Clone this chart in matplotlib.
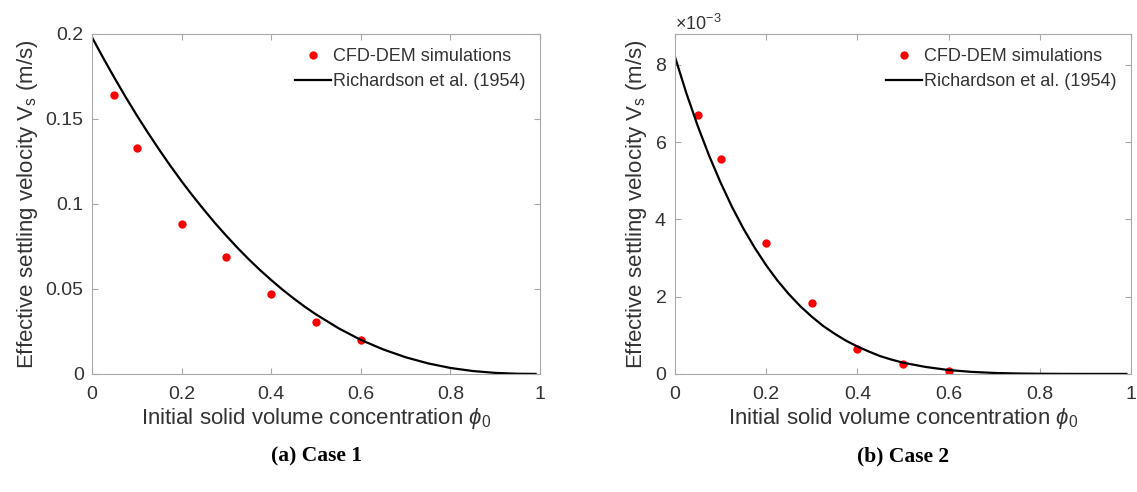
import matplotlib
matplotlib.use("Agg")
from matplotlib import pyplot as plt
from matplotlib.ticker import ScalarFormatter

plt.rcParams['font.family'] = ['Liberation Sans', 'DejaVu Sans']
plt.rcParams['mathtext.fontset'] = 'custom'
plt.rcParams['mathtext.rm'] = 'Liberation Sans'
plt.rcParams['mathtext.it'] = 'Liberation Sans:italic'

# CFD-DEM points
phi_sim = [0.05, 0.1, 0.2, 0.3, 0.4, 0.5, 0.6]
vs_case1 = [0.164, 0.133, 0.088, 0.0685, 0.047, 0.0308, 0.0197]
vs_case2 = [6.70e-3, 5.55e-3, 3.40e-3, 1.83e-3, 0.64e-3, 0.26e-3, 0.08e-3]

# Richardson et al. (1954) curves
phi_curve = [0, 0.025, 0.05, 0.075, 0.1, 0.125, 0.15, 0.175, 0.2, 0.225,
             0.25, 0.275, 0.3, 0.325, 0.35, 0.375, 0.4, 0.425, 0.45, 0.475,
             0.5, 0.55, 0.6, 0.65, 0.7, 0.75, 0.8, 0.85, 0.9, 0.95, 0.99]
rz_case1 = [0.198, 0.1859, 0.1742, 0.1629, 0.1521, 0.1418, 0.1319, 0.1224,
            0.1133, 0.1047, 0.0965, 0.0886, 0.0812, 0.0741, 0.0674, 0.0611,
            0.0552, 0.0496, 0.0444, 0.0395, 0.0350, 0.0269, 0.0200, 0.0144,
            0.0098, 0.0062, 0.0035, 0.0017, 0.0006, 0.0001, 0.0]
rz_case2 = [8.20e-3, 7.26e-3, 6.41e-3, 5.64e-3, 4.95e-3, 4.32e-3, 3.76e-3,
            3.26e-3, 2.81e-3, 2.41e-3, 2.06e-3, 1.75e-3, 1.48e-3, 1.24e-3,
            1.04e-3, 0.86e-3, 0.71e-3, 0.58e-3, 0.46e-3, 0.37e-3, 0.29e-3,
            0.18e-3, 0.10e-3, 0.053e-3, 0.025e-3, 0.011e-3, 0.004e-3,
            0.001e-3, 0.0, 0.0, 0.0]

cases = [
    (vs_case1, rz_case1, (0, 0.2), [0, 0.05, 0.1, 0.15, 0.2], '(a) Case 1'),
    (vs_case2, rz_case2, (0, 8.8e-3), [0, 2e-3, 4e-3, 6e-3, 8e-3], '(b) Case 2'),
]

fig = plt.figure(figsize=(11.37, 4.92), dpi=100)
positions = [[0.0809, 0.2400, 0.3941, 0.6911],
             [0.5937, 0.2400, 0.4010, 0.6911]]

frame_col = '#a8a8a8'
text_col = '#333333'

for pos, (sim, rz, ylim, yticks, caption) in zip(positions, cases):
    ax = fig.add_axes(pos)
    ax.plot(phi_sim, sim, 'o', color='red', markersize=6, markeredgewidth=0,
            label='CFD-DEM simulations')
    ax.plot(phi_curve, rz, '-', color='black', linewidth=1.6,
            label='Richardson et al. (1954)')
    ax.set_xlim(0, 1)
    ax.set_ylim(*ylim)
    ax.set_xticks([0, 0.2, 0.4, 0.6, 0.8, 1])
    ax.set_xticklabels(['0', '0.2', '0.4', '0.6', '0.8', '1'])
    ax.set_yticks(yticks)
    if ylim[1] < 0.01:
        fmt = ScalarFormatter(useMathText=True)
        fmt.set_powerlimits((-2, 2))
        ax.yaxis.set_major_formatter(fmt)
        ax.yaxis.get_offset_text().set_fontsize(13)
        ax.yaxis.get_offset_text().set_color(text_col)
    else:
        ax.set_yticklabels(['0', '0.05', '0.1', '0.15', '0.2'])
    for s in ax.spines.values():
        s.set_color(frame_col)
        s.set_linewidth(0.8)
    ax.tick_params(direction='in', top=True, right=True, length=4,
                   color=frame_col, labelsize=14, labelcolor=text_col)
    ax.tick_params(axis='x', pad=9)
    ax.tick_params(axis='y', pad=6)
    ax.set_xlabel(r'Initial solid volume concentration $\phi_0$',
                  fontsize=16, color=text_col, labelpad=2)
    ax.set_ylabel(r'Effective settling velocity V$_\mathrm{s}$ (m/s)',
                  fontsize=16, color=text_col, labelpad=4)
    leg = ax.legend(loc='upper right', frameon=False, fontsize=13,
                    handlelength=2.0, handletextpad=0.1, borderaxespad=0.4,
                    labelspacing=0.45)
    for t in leg.get_texts():
        t.set_color(text_col)
    fig.text(pos[0] + pos[2] / 2, 0.072, caption, ha='center', va='center',
             fontsize=15.5, fontweight='bold', family='Liberation Serif')

fig.savefig('out.png', dpi=100)
